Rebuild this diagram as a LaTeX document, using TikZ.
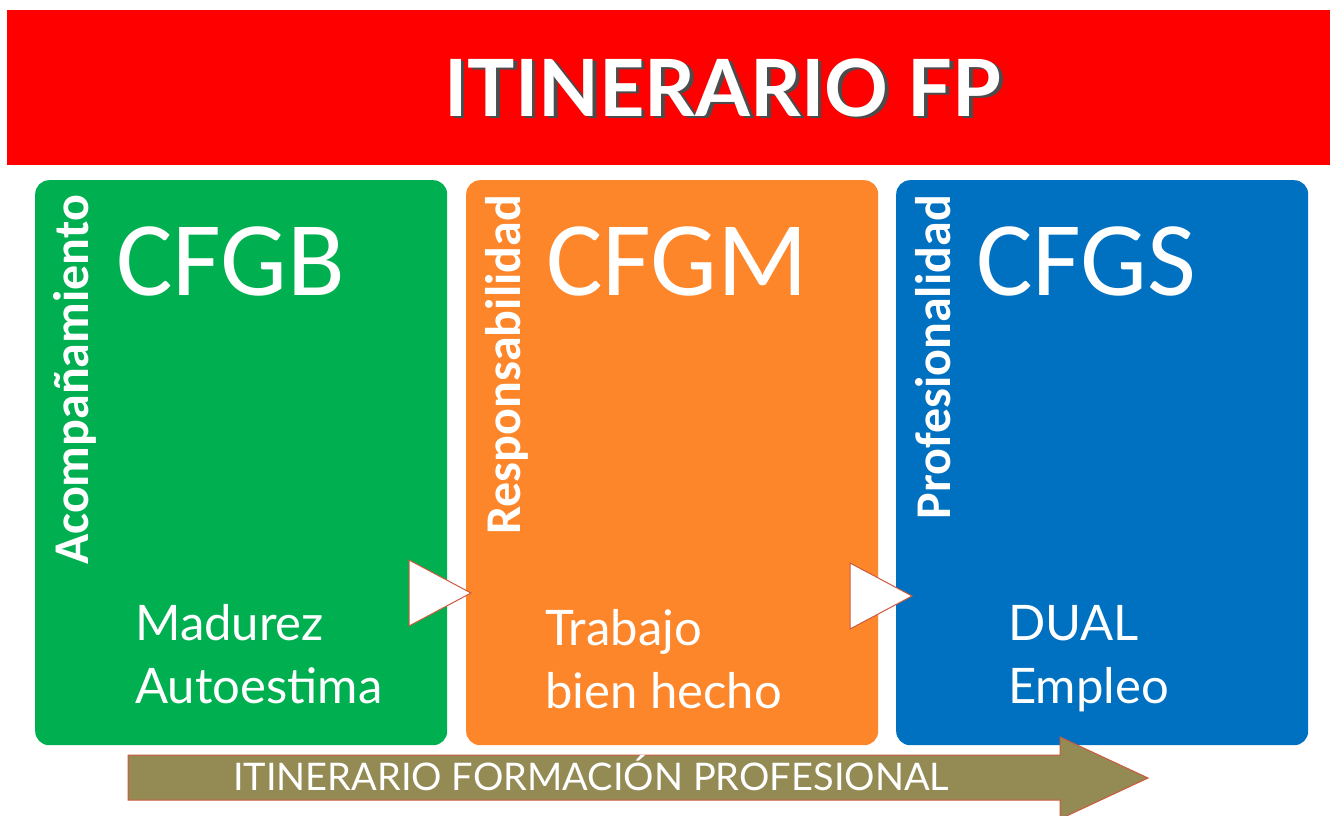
\documentclass[tikz,border=0pt]{standalone}
\usepackage{fontspec}
\setmainfont{Lato}
\newfontfamily\carl{Carlito}
\definecolor{cred}{RGB}{255,0,0}
\definecolor{cgreen}{RGB}{0,176,80}
\definecolor{corange}{RGB}{253,134,42}
\definecolor{cblue}{RGB}{0,112,192}
\definecolor{colive}{RGB}{148,138,84}
\definecolor{cedge}{RGB}{205,90,60}
\tikzset{
  stagebox/.style={rounded corners=14pt, inner sep=0pt, minimum width=412pt, minimum height=565pt, anchor=north west},
  vertlabel/.style={rotate=90, anchor=base east, inner sep=0pt, text=white, font=\carl\bfseries\fontsize{50}{50}\selectfont},
  cyclelabel/.style={anchor=base west, inner sep=0pt, text=white, font=\carl\fontsize{106}{106}\selectfont},
  bodytext/.style={anchor=base west, inner sep=0pt, text=white, font=\fontsize{49}{49}\selectfont},
  pointer/.style={fill=white, draw=cedge, line width=1pt, line join=miter},
  titletext/.style={anchor=base west, inner sep=0pt, font=\bfseries\fontsize{79}{79}\selectfont},
}
\begin{document}
\begin{tikzpicture}[x=1pt,y=-1pt]
\useasboundingbox (0,0) rectangle (1330,816);
\fill[white] (0,0) rectangle (1330,816);
% banner
\node[fill=cred, inner sep=0pt, minimum width=1323pt, minimum height=155pt, anchor=north west] (banner) at (7,10) {};
\node[titletext, text=black!70] (titleshadow) at (447.5,118.5) {ITINERARIO FP};
\node[titletext, text=white] (title) at (444,116) {ITINERARIO FP};
% boxes
\node[stagebox, fill=cgreen] (b1) at (35,180) {};
\node[stagebox, fill=corange] (b2) at (466,180) {};
\node[stagebox, fill=cblue] (b3) at (896,180) {};
% vertical labels
\node[vertlabel] (v1) at (88,195) {Acompañamiento};
\node[vertlabel] (v2) at (520,195) {Responsabilidad};
\node[vertlabel] (v3) at (950,195) {Profesionalidad};
% cycle names
\node[cyclelabel] (c1) at (116,295) {CFGB};
\node[cyclelabel] (c2) at (546,295) {CFGM};
\node[cyclelabel] (c3) at (976,295) {CFGS};
% body texts
\node[bodytext] (t1a) at (135,640) {Madurez};
\node[bodytext] (t1b) at (135,703) {Autoestima};
\node[bodytext] (t2a) at (545,645) {Trabajo};
\node[bodytext] (t2b) at (545,708) {bien hecho};
\node[bodytext] (t3a) at (1008,640) {DUAL};
\node[bodytext] (t3b) at (1008,703) {Empleo};
% pointers between boxes
\draw[pointer] (409,560) -- (471,593) -- (409,626) -- cycle;
\draw[pointer] (850,563) -- (912,596) -- (850,629) -- cycle;
% bottom arrow
\draw[fill=colive, draw=cedge, line width=1pt, line join=miter] (128,755) -- (1060,755) -- (1060,737) -- (1148,778) -- (1060,819) -- (1060,800) -- (128,800) -- cycle;
\node[anchor=base, inner sep=0pt, text=white, font=\fontsize{38}{38}\selectfont] (arrowtext) at (591,790) {ITINERARIO FORMACIÓN PROFESIONAL};
\end{tikzpicture}
\end{document}
